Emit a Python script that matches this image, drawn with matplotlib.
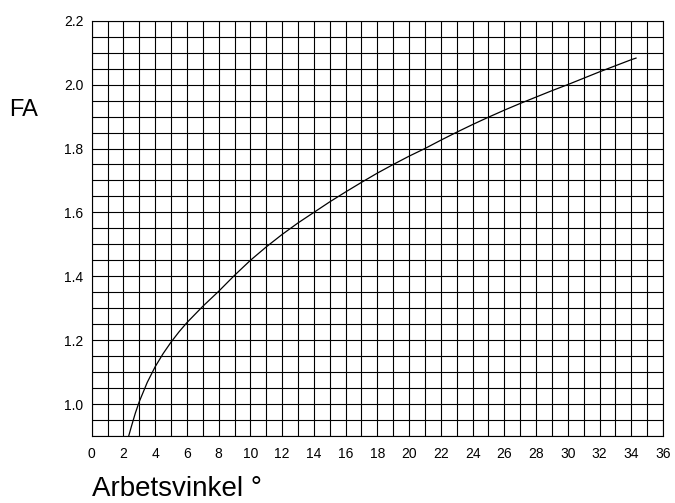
import matplotlib
matplotlib.use('Agg')
import matplotlib.pyplot as plt
import numpy as np

# working angle (degrees) vs. FA factor
angle = [2.33, 2.5, 2.75, 3.0, 3.5, 4.0, 4.5, 5.0, 5.5, 6.0, 7.0, 8.0, 9.0,
         10.0, 11.0, 12.0, 13.0, 14.0, 15.0, 16.0, 17.0, 18.0, 19.0, 20.0,
         21.0, 22.0, 23.0, 24.0, 25.0, 26.0, 27.0, 28.0, 29.0, 30.0, 31.0,
         32.0, 33.0, 34.0, 34.3]
fa = [0.90, 0.93, 0.972, 1.008, 1.068, 1.117, 1.158, 1.194, 1.226, 1.255,
      1.306, 1.353, 1.403, 1.45, 1.492, 1.531, 1.567, 1.600, 1.633, 1.664,
      1.694, 1.723, 1.750, 1.776, 1.800, 1.826, 1.851, 1.875, 1.898, 1.920,
      1.941, 1.961, 1.981, 2.000, 2.020, 2.040, 2.059, 2.078, 2.083]

x_ticks = list(range(0, 37, 2))
y_ticks = [1.0, 1.2, 1.4, 1.6, 1.8, 2.0, 2.2]

plt.rcParams['font.family'] = ['Liberation Sans', 'DejaVu Sans']

fig = plt.figure(figsize=(6.75, 5.03), dpi=100)
ax = fig.add_axes([0.1359, 0.1332, 0.8463, 0.8256])

# millimetre-paper style grid: 1 degree by 0.05
for gx in np.arange(0, 36.5, 1):
    ax.axvline(gx, color='black', linewidth=0.8, zorder=1)
for gy in np.arange(0.9, 2.21, 0.05):
    ax.axhline(gy, color='black', linewidth=0.8, zorder=1)

ax.plot(angle, fa, color='black', linewidth=0.9, zorder=3,
        solid_joinstyle='round')

ax.set_xlim(0, 36)
ax.set_ylim(0.9, 2.2)
ax.set_xticks(x_ticks)
ax.set_xticklabels([str(t) for t in x_ticks])
ax.set_yticks(y_ticks)
ax.set_yticklabels([f"{t:.1f}" for t in y_ticks])
ax.tick_params(length=0, labelsize=10, pad=8)
ax.tick_params(axis='y', pad=6)
for s in ax.spines.values():
    s.set_linewidth(0.8)
    s.set_color('black')

fig.text(0.014, 0.781, "FA", fontsize=17, ha='left', va='center')
fig.text(0.137, 0.027, "Arbetsvinkel °", fontsize=20, ha='left', va='center')

plt.savefig('out.png', dpi=100)
plt.close(fig)
